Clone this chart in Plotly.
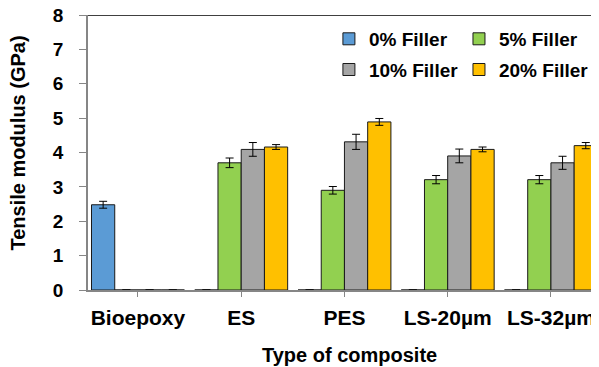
import plotly.graph_objects as go

categories = ["Bioepoxy", "ES", "PES", "LS-20µm", "LS-32µm"]
series_names = ["0% Filler", "5% Filler", "10% Filler", "20% Filler"]
filler_0 = [2.48, 0, 0, 0, 0]
filler_0_err = [0.1, 0, 0, 0, 0]
filler_5 = [0, 3.70, 2.90, 3.21, 3.21]
filler_5_err = [0, 0.14, 0.11, 0.12, 0.12]
filler_10 = [0, 4.09, 4.31, 3.90, 3.70]
filler_10_err = [0, 0.2, 0.22, 0.2, 0.19]
filler_20 = [0, 4.16, 4.89, 4.09, 4.20]
filler_20_err = [0, 0.07, 0.1, 0.07, 0.09]
x_title = "Type of composite"
y_title = "Tensile modulus (GPa)"

colors = ["#5B9BD5", "#92D050", "#A5A5A5", "#FFC000"]
values = [filler_0, filler_5, filler_10, filler_20]
errors = [filler_0_err, filler_5_err, filler_10_err, filler_20_err]
legends = ["legend", "legend2", "legend", "legend2"]

FONT = "Liberation Sans, Arial, sans-serif"

fig = go.Figure()
for name, vals, errs, col, lg in zip(series_names, values, errors, colors, legends):
    fig.add_trace(go.Bar(
        x=categories, y=vals, name=name,
        marker=dict(color=col, line=dict(color="#1a1a1a", width=1)),
        error_y=dict(type="data", array=errs,
                     visible=True, color="black", thickness=1, width=4),
        legend=lg, legendgroup=name,
    ))

legend_font = dict(size=19, family=FONT, color="black", weight="bold")
fig.update_layout(
    width=599, height=367,
    margin=dict(l=80, r=0, t=7, b=85, autoexpand=False),
    plot_bgcolor="white", paper_bgcolor="white",
    barmode="group", bargap=0.1, bargroupgap=0,
    font=dict(family=FONT, color="black"),
    showlegend=True,
    legend=dict(x=0.4642, y=0.982, xanchor="left", yanchor="top",
                font=legend_font,
                bgcolor="rgba(0,0,0,0)", traceorder="grouped",
                itemwidth=30, tracegroupgap=3),
    legend2=dict(x=0.7148, y=0.982, xanchor="left", yanchor="top",
                 font=legend_font,
                 bgcolor="rgba(0,0,0,0)", traceorder="grouped",
                 itemwidth=30, tracegroupgap=3),
    xaxis=dict(
        range=[-0.484, 4.543], showgrid=False,
        showline=True, linecolor="#868686", linewidth=1.5,
        ticks="outside", ticklen=5, tickcolor="#868686",
        tickfont=dict(size=21, family=FONT, color="black", weight="bold"),
        ticklabelstandoff=3,
    ),
    yaxis=dict(
        range=[0, 8], dtick=1, showgrid=False, zeroline=False,
        showline=True, linecolor="#868686", linewidth=1.5,
        ticks="outside", ticklen=7, tickcolor="#868686",
        tickfont=dict(size=19, family=FONT, color="black", weight="bold"),
        ticklabelstandoff=12, ticklabeloverflow="allow",
    ),
    shapes=[dict(type="line", xref="paper", yref="y", x0=0, x1=1, y0=8, y1=8,
                 line=dict(color="black", width=1.5))],
    annotations=[
        dict(text="<b>" + x_title + "</b>", xref="paper", yref="paper",
             x=0.503, y=-0.236, xanchor="center", yanchor="middle", showarrow=False,
             font=dict(size=20, family=FONT, color="black")),
        dict(text="<b>" + y_title + "</b>", xref="paper", yref="paper",
             x=-0.1349, y=0.536, xanchor="center", yanchor="middle", showarrow=False,
             textangle=-90, font=dict(size=20, family=FONT, color="black")),
    ],
)

fig.write_html("out.html")
